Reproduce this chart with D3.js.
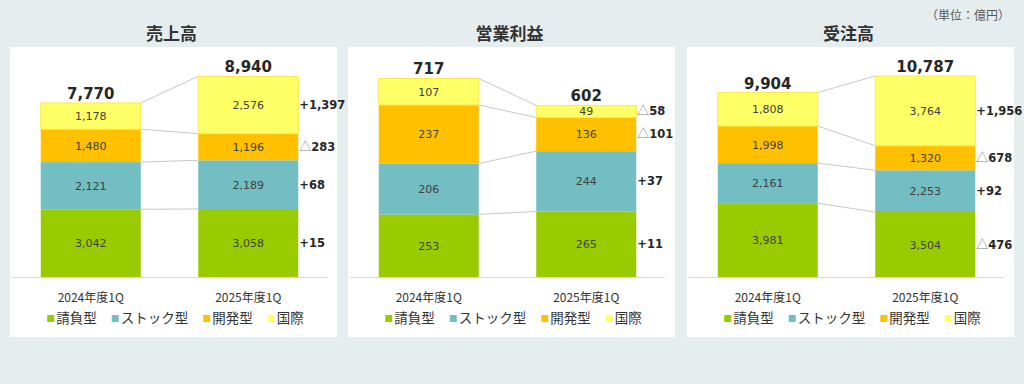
<!DOCTYPE html>
<html>
<head>
<meta charset="utf-8">
<script src="https://cdn.jsdelivr.net/npm/d3@7"></script>
<style>
  html, body { margin: 0; padding: 0; background: #e6edef; }
  svg { display: block; }
</style>
</head>
<body>
<svg id="chart" width="1024" height="384"></svg>
<script>
// ---- data ----
const seriesNames = ["請負型", "ストック型", "開発型", "国際"];
const categories = ["2024年度1Q", "2025年度1Q"];
const chartTitles = ["売上高", "営業利益", "受注高"];
const unitLabel = "（単位：億円）";

const salesValues = [[3042, 2121, 1480, 1178], [3058, 2189, 1196, 2576]];
const profitValues = [[253, 206, 237, 107], [265, 244, 136, 49]];
const ordersValues = [[3981, 2161, 1998, 1808], [3504, 2253, 1320, 3764]];

const salesTotals = [7770, 8940];
const profitTotals = [717, 602];
const ordersTotals = [9904, 10787];

const salesChanges = [15, 68, -283, 1397];
const profitChanges = [11, 37, -101, -58];
const ordersChanges = [-476, 92, -678, 1956];

const axisMax = [10000, 900, 12000];

const seriesColors = ["#99cc00", "#72bec3", "#ffc000", "#ffff66"];

// ---- drawing ----
const svg = d3.select("#chart");
const fmt = d3.format(",");
const numFont = "'DejaVu Sans', Verdana, sans-serif";
const jpFont = "'Noto Sans CJK JP', 'Noto Sans', sans-serif";

const charts = [
  { title: chartTitles[0], values: salesValues, totals: salesTotals, changes: salesChanges, max: axisMax[0] },
  { title: chartTitles[1], values: profitValues, totals: profitTotals, changes: profitChanges, max: axisMax[1] },
  { title: chartTitles[2], values: ordersValues, totals: ordersTotals, changes: ordersChanges, max: axisMax[2] }
];

const panelLefts = [10, 348, 687];
const panelW = 327, panelTop = 47, panelBottom = 337;
const baseY = 277, plotTop = 54.5;

svg.append("text")
  .attr("x", 1010).attr("y", 20)
  .attr("text-anchor", "end")
  .attr("font-family", jpFont).attr("font-size", 12)
  .attr("fill", "#595959")
  .text(unitLabel);

charts.forEach((c, ci) => {
  const left = panelLefts[ci];
  const g = svg.append("g").attr("transform", `translate(${left},0)`);

  g.append("rect").attr("x", 0).attr("y", panelTop)
    .attr("width", panelW).attr("height", panelBottom - panelTop)
    .attr("fill", "#ffffff");

  g.append("text")
    .attr("x", panelW / 2 - 2).attr("y", 40)
    .attr("text-anchor", "middle")
    .attr("font-family", jpFont).attr("font-size", 17).attr("font-weight", "bold")
    .attr("fill", "#333333")
    .text(c.title);

  const x = d3.scaleBand().domain(categories).range([2, 317])
    .paddingInner(0.365).paddingOuter(0.1825);
  const y = d3.scaleLinear().domain([0, c.max]).range([baseY, plotTop]);

  // stacked data
  const rows = categories.map((cat, i) => {
    const o = { cat };
    seriesNames.forEach((s, j) => o[s] = c.values[i][j]);
    return o;
  });
  const stacked = d3.stack().keys(seriesNames)(rows);

  // connector lines (segment tops)
  stacked.forEach(layer => {
    g.append("line")
      .attr("x1", x(categories[0]) + x.bandwidth())
      .attr("y1", y(layer[0][1]))
      .attr("x2", x(categories[1]))
      .attr("y2", y(layer[1][1]))
      .attr("stroke", "#c8c8c8").attr("stroke-width", 1);
  });

  // axis baseline
  g.append("line").attr("x1", 2).attr("x2", 317)
    .attr("y1", baseY + 0.5).attr("y2", baseY + 0.5)
    .attr("stroke", "#d9d9d9").attr("stroke-width", 1);

  // bars
  stacked.forEach((layer, j) => {
    const lg = g.append("g");
    lg.selectAll("rect").data(layer).join("rect")
      .attr("x", d => x(d.data.cat))
      .attr("y", d => y(d[1]))
      .attr("width", x.bandwidth())
      .attr("height", d => y(d[0]) - y(d[1]))
      .attr("fill", seriesColors[j])
      .attr("stroke", j === 3 ? "#fbe94a" : "none")
      .attr("stroke-width", 1);
    lg.selectAll("text").data(layer).join("text")
      .attr("x", d => x(d.data.cat) + x.bandwidth() / 2)
      .attr("y", d => (y(d[0]) + y(d[1])) / 2 + 4)
      .attr("text-anchor", "middle")
      .attr("font-family", numFont).attr("font-size", 11)
      .attr("fill", "#404040")
      .text(d => fmt(d[1] - d[0]));
  });

  // totals
  categories.forEach((cat, i) => {
    const top = stacked[stacked.length - 1][i][1];
    g.append("text")
      .attr("x", x(cat) + x.bandwidth() / 2)
      .attr("y", y(top) - 4)
      .attr("text-anchor", "middle")
      .attr("font-family", numFont).attr("font-size", 15).attr("font-weight", "bold")
      .attr("fill", "#262626")
      .text(fmt(c.totals[i]));
  });

  // change labels
  stacked.forEach((layer, j) => {
    const d = layer[1];
    const v = c.changes[j];
    const t = g.append("text")
      .attr("x", x(categories[1]) + x.bandwidth() + 1)
      .attr("y", (y(d[0]) + y(d[1])) / 2 + 4)
      .attr("font-family", numFont).attr("font-size", 11.5);
    if (v < 0) {
      t.append("tspan").attr("fill", "#7f7f7f").attr("font-weight", "normal")
        .attr("font-family", jpFont).attr("font-size", 12).text("△");
      t.append("tspan").attr("fill", "#262626").attr("font-weight", "bold").text(fmt(-v));
    } else {
      t.append("tspan").attr("fill", "#262626").attr("font-weight", "bold").text("+" + fmt(v));
    }
  });

  // category labels
  categories.forEach(cat => {
    g.append("text")
      .attr("x", x(cat) + x.bandwidth() / 2)
      .attr("y", 302)
      .attr("text-anchor", "middle")
      .attr("font-family", jpFont).attr("font-size", 12)
      .attr("fill", "#333333")
      .text(cat);
  });

  // legend
  const leg = g.append("g");
  let cx = 0;
  seriesNames.forEach((s, j) => {
    const it = leg.append("g").attr("transform", `translate(${cx},0)`);
    it.append("rect").attr("x", 0).attr("y", 315).attr("width", 7).attr("height", 7)
      .attr("fill", seriesColors[j]);
    const tt = it.append("text").attr("x", 9).attr("y", 323)
      .attr("font-family", jpFont).attr("font-size", 13.5)
      .attr("fill", "#333333").text(s);
    const w = tt.node().getComputedTextLength();
    cx += 9 + w + 15;
  });
  const legW = cx - 15;
  leg.attr("transform", `translate(${panelW / 2 + 2 - legW / 2},0)`);
});
</script>
</body>
</html>
